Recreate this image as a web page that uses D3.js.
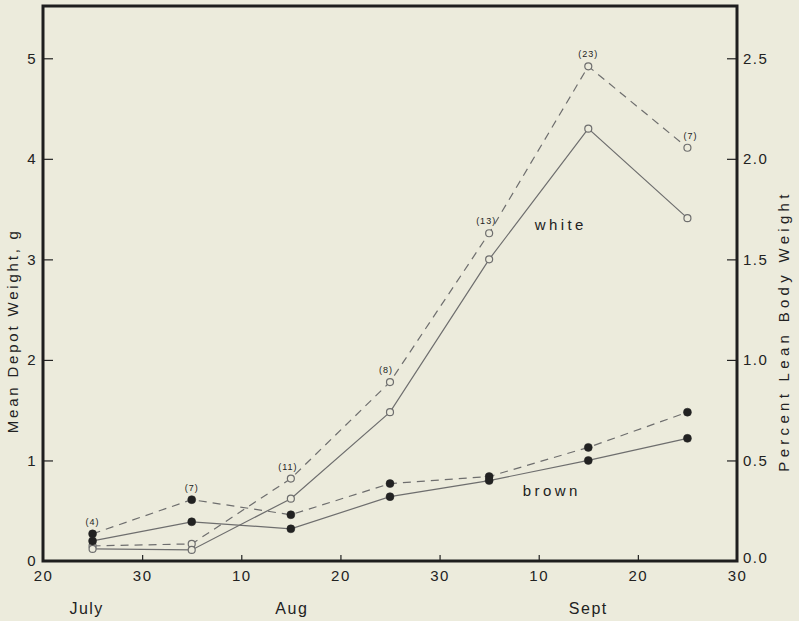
<!DOCTYPE html>
<html><head><meta charset="utf-8">
<script src="https://cdn.jsdelivr.net/npm/d3@7"></script>
<style>
html,body{margin:0;padding:0;background:#ecebdc;}
svg{display:block;}
text{font-family:"Liberation Sans",Arial,sans-serif;fill:#222;}
</style></head>
<body>
<svg id="chart" width="799" height="621"></svg>
<script>
// ---- data ----
const days = [5, 15, 25, 35, 45, 55, 65];          // days after 20 July
const whiteDashed = [0.15, 0.17, 0.82, 1.78, 3.26, 4.92, 4.11];
const whiteSolid  = [0.12, 0.11, 0.62, 1.48, 3.00, 4.30, 3.41];
const brownDashed = [0.27, 0.61, 0.46, 0.77, 0.84, 1.13, 1.48];
const brownSolid  = [0.20, 0.39, 0.32, 0.64, 0.80, 1.00, 1.22];
const sampleSizes = ["(4)", "(7)", "(11)", "(8)", "(13)", "(23)", "(7)"];
const xTickValues = [0, 10, 20, 30, 40, 50, 60, 70];
const xTickLabels = ["20", "30", "10", "20", "30", "10", "20", "30"];
const months = ["July", "Aug", "Sept"];
const monthPos = [4.4, 25.1, 55];
const leftTicks = [0, 1, 2, 3, 4, 5];
const rightTicks = [0, 0.5, 1.0, 1.5, 2.0, 2.5];

// ---- layout ----
const svg = d3.select("#chart");
const x = d3.scaleLinear().domain([0, 70]).range([43, 737]);
const y = d3.scaleLinear().domain([0, 5.52]).range([561, 6]);
const y2 = d3.scaleLinear().domain([0, 2.76]).range([561, 6]);

const fontTick = {size: "15px", ls: "1.5px"};

// left axis
const gL = svg.append("g").attr("transform", `translate(${x(0)},0)`)
  .call(d3.axisLeft(y).tickValues(leftTicks).tickSize(-10).tickPadding(6).tickFormat(d3.format("d")));
// right axis
const gR = svg.append("g").attr("transform", `translate(${x(70)},0)`)
  .call(d3.axisRight(y2).tickValues(rightTicks).tickSize(-10).tickPadding(6).tickFormat(d3.format(".1f")));
// bottom axis
const gB = svg.append("g").attr("transform", `translate(0,${y(0)})`)
  .call(d3.axisBottom(x).tickValues(xTickValues).tickSize(-6).tickPadding(9).tickFormat((d, i) => xTickLabels[i]));

[gL, gR, gB].forEach(g => {
  g.select(".domain").remove();
  g.selectAll(".tick line").attr("stroke", "#222").attr("stroke-width", 1.2);
  g.selectAll(".tick text").style("font-size", fontTick.size).style("letter-spacing", fontTick.ls).attr("fill", "#222");
});
gB.selectAll(".tick").filter(d => d === 0 || d === 70).select("line").remove();
gL.selectAll(".tick").filter(d => d === 0).select("line").remove();
gR.selectAll(".tick").filter(d => d === 0).select("line").remove();
gR.selectAll(".tick").filter(d => d === 0).select("text").attr("dy", "0.1em");

// frame
svg.append("rect").attr("x", x(0)).attr("y", y(5.52)).attr("width", x(70) - x(0)).attr("height", y(0) - y(5.52))
  .attr("fill", "none").attr("stroke", "#1e1e1e").attr("stroke-width", 3);

// month labels
svg.append("g").selectAll("text").data(months).join("text")
  .attr("x", (d, i) => x(monthPos[i])).attr("y", 614)
  .attr("text-anchor", "middle").style("font-size", "16px").style("letter-spacing", "1.5px").text(d => d);

// axis titles
svg.append("text").attr("transform", `translate(18,${y(2.29)}) rotate(-90)`)
  .attr("text-anchor", "middle").style("font-size", "15px").style("letter-spacing", "2.8px")
  .text("Mean Depot Weight, g");
svg.append("text").attr("transform", `translate(789,${y2(1.144)}) rotate(-90)`)
  .attr("text-anchor", "middle").style("font-size", "15px").style("letter-spacing", "4.3px")
  .text("Percent Lean Body Weight");

// series
const line = d3.line().x((d, i) => x(days[i])).y(d => y(d));
const series = [
  {vals: whiteDashed, dash: "8,6", open: true},
  {vals: whiteSolid, dash: null, open: true},
  {vals: brownDashed, dash: "8,6", open: false},
  {vals: brownSolid, dash: null, open: false}
];
series.forEach(s => {
  svg.append("path").datum(s.vals).attr("d", line)
    .attr("fill", "none").attr("stroke", "#6e6e6e").attr("stroke-width", 1.2)
    .attr("stroke-dasharray", s.dash);
});
series.forEach(s => {
  svg.append("g").selectAll("circle").data(s.vals).join("circle")
    .attr("cx", (d, i) => x(days[i])).attr("cy", d => y(d))
    .attr("r", s.open ? 3.5 : 4)
    .attr("fill", s.open ? "#ecebdc" : "#222")
    .attr("stroke", s.open ? "#6e6e6e" : "#222").attr("stroke-width", s.open ? 1.2 : 0.5);
});

// sample size labels above the top series at each date
const topVals = days.map((d, i) => Math.max(whiteDashed[i], brownDashed[i]));
svg.append("g").selectAll("text").data(sampleSizes).join("text")
  .attr("x", (d, i) => x(days[i]) + (i === 2 ? -3 : i === 3 ? -4 : i === 4 ? -3 : i === 6 ? 3 : 0))
  .attr("y", (d, i) => y(topVals[i]) - 9)
  .attr("text-anchor", "middle").style("font-size", "9px").style("letter-spacing", "1px").text(d => d);

// series labels
svg.append("text").attr("x", x(49.6)).attr("y", y(3.29)).style("font-size", "15px").style("letter-spacing", "3.4px").text("white");
svg.append("text").attr("x", x(48.4)).attr("y", y(0.645)).style("font-size", "15px").style("letter-spacing", "3.4px").text("brown");
</script>
</body></html>
